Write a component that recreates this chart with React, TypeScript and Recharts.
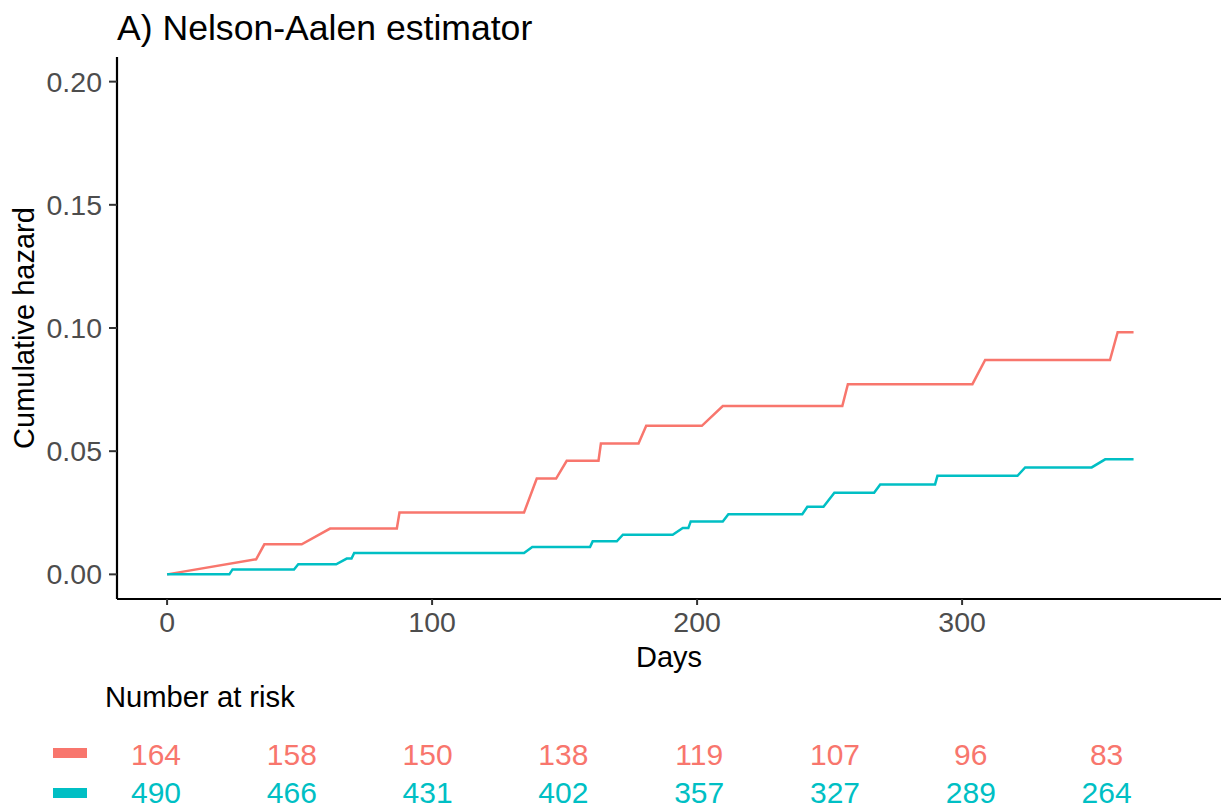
import React from 'react';
import { LineChart, Line, XAxis, YAxis } from 'recharts';

// cumulative hazard, group 1 (red) — [day, hazard]
const RED_DAYS = [0, 33.6, 36.7, 50.8, 61.5, 86.7, 87.7, 134.7, 139.5, 146.8, 150.8, 162.8, 163.7, 177.9, 180.8, 201.8, 209.7, 254.8, 256.9, 303.9, 308.7, 355.8, 358.7, 364.7];
const RED_HAZ = [0, 0.0061, 0.0122, 0.0122, 0.0186, 0.0186, 0.0251, 0.0251, 0.0389, 0.0389, 0.0461, 0.0461, 0.0531, 0.0531, 0.0603, 0.0603, 0.0683, 0.0683, 0.0772, 0.0772, 0.087, 0.087, 0.0983, 0.0983];

// group 2 (teal)
const TEAL_DAYS = [0, 23.5, 24.7, 47.9, 49.5, 63.8, 67.8, 69.6, 70.6, 134.7, 137.8, 159.6, 160.6, 169.7, 172, 190.8, 194.6, 196.7, 197.6, 209.7, 211.8, 239.7, 241.6, 247.7, 251.8, 266.8, 269.1, 289.8, 290.7, 320.9, 323.8, 348.9, 354, 364.7];
const TEAL_HAZ = [0, 0, 0.002, 0.002, 0.0041, 0.0041, 0.0064, 0.0064, 0.0087, 0.0087, 0.0111, 0.0111, 0.0134, 0.0134, 0.0161, 0.0161, 0.0188, 0.0188, 0.0215, 0.0215, 0.0244, 0.0244, 0.0274, 0.0274, 0.0331, 0.0331, 0.0365, 0.0365, 0.04, 0.04, 0.0434, 0.0434, 0.0467, 0.0467];

const X_TICKS = [0, 100, 200, 300];
const Y_TICKS = [0, 0.05, 0.1, 0.15, 0.2];

// number at risk table
const RISK_RED = [164, 158, 150, 138, 119, 107, 96, 83];
const RISK_TEAL = [490, 466, 431, 402, 357, 327, 289, 264];

const RED = '#F8766D';
const TEAL = '#00BFC4';
const FONT = '"Liberation Sans", Arial, Helvetica, sans-serif';

const redData = RED_DAYS.map((d, i) => ({ day: d, hazard: RED_HAZ[i] }));
const tealData = TEAL_DAYS.map((d, i) => ({ day: d, hazard: TEAL_HAZ[i] }));

const YTitle = () => {
  const cy = 57 + (599 - 57) / 2;
  return (
    <text
      x={34}
      y={cy}
      transform={`rotate(-90, 34, ${cy})`}
      textAnchor="middle"
      fontSize={29}
      fontFamily={FONT}
      fill="#000"
    >
      Cumulative hazard
    </text>
  );
};

export default function App() {
  return (
    <div style={{ position: 'absolute', left: 0, top: 0, width: 1221, height: 812, background: '#fff' }}>
      <LineChart
        width={1221}
        height={812}
        margin={{ top: 57, right: 0, left: 0, bottom: 143 }}
        style={{ fontFamily: FONT }}
      >
        <XAxis
          type="number"
          dataKey="day"
          domain={[-18.9, 397.7]}
          ticks={X_TICKS}
          allowDataOverflow
          height={70}
          tickSize={6}
          tickMargin={7}
          tick={{ fill: '#4D4D4D', fontSize: 28.5, fontFamily: FONT }}
          tickLine={{ stroke: '#333', strokeWidth: 2 }}
          axisLine={{ stroke: '#000', strokeWidth: 2.2 }}
          label={{ value: 'Days', position: 'insideBottom', offset: 2, fontSize: 29, fill: '#000', fontFamily: FONT }}
        />
        <YAxis
          type="number"
          dataKey="hazard"
          domain={[-0.01, 0.21]}
          ticks={Y_TICKS}
          allowDataOverflow
          width={117}
          tickSize={8}
          tickMargin={7}
          tickFormatter={(v: number) => v.toFixed(2)}
          tick={{ fill: '#4D4D4D', fontSize: 28.5, fontFamily: FONT }}
          tickLine={{ stroke: '#333', strokeWidth: 2 }}
          axisLine={{ stroke: '#000', strokeWidth: 2.2 }}
          label={<YTitle />}
        />
        <Line data={redData} dataKey="hazard" type="linear" stroke={RED} strokeWidth={2.5} dot={false} isAnimationActive={false} />
        <Line data={tealData} dataKey="hazard" type="linear" stroke={TEAL} strokeWidth={2.5} dot={false} isAnimationActive={false} />
      </LineChart>

      {/* title + number at risk table */}
      <svg width={1221} height={812} style={{ position: 'absolute', left: 0, top: 0, pointerEvents: 'none' }}>
        <text x={117} y={40} fontSize={35.6} fontFamily={FONT} fill="#000">
          A) Nelson-Aalen estimator
        </text>
        <text x={105} y={707} fontSize={29.2} fontFamily={FONT} fill="#000">
          Number at risk
        </text>
        <rect x={53} y={748} width={34} height={10} fill={RED} />
        <rect x={53} y={788} width={34} height={10} fill={TEAL} />
        {RISK_RED.map((n, i) => (
          <text key={'r' + i} x={156 + 135.8 * i} y={765} textAnchor="middle" fontSize={30} fontFamily={FONT} fill={RED}>
            {n}
          </text>
        ))}
        {RISK_TEAL.map((n, i) => (
          <text key={'t' + i} x={156 + 135.8 * i} y={803} textAnchor="middle" fontSize={30} fontFamily={FONT} fill={TEAL}>
            {n}
          </text>
        ))}
      </svg>
    </div>
  );
}
